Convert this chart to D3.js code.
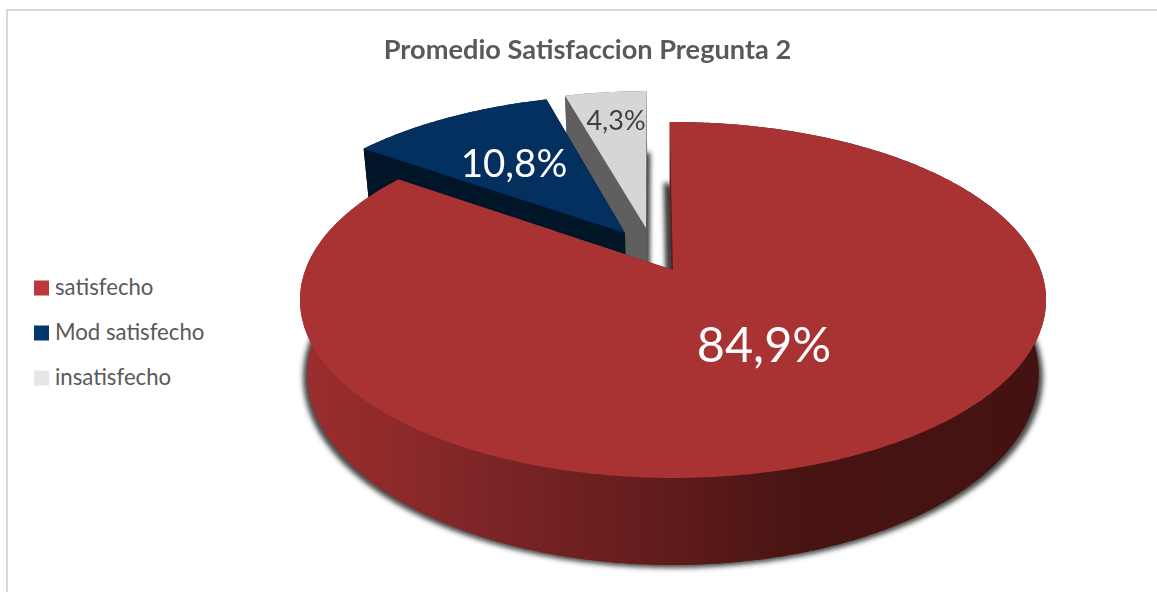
<!DOCTYPE html>
<html><head><meta charset="utf-8">
<script src="https://cdn.jsdelivr.net/npm/d3@7"></script>
<style>html,body{margin:0;padding:0;background:#fff;overflow:hidden}svg{display:block}text{font-family:Lato,"Open Sans",sans-serif}</style>
</head><body><svg id="c" width="1157" height="592"></svg>
<script>
const categories = ["satisfecho", "Mod satisfecho", "insatisfecho"];
const values = [84.9, 10.8, 4.3];
const valueLabels = ["84,9%", "10,8%", "4,3%"];
const chartTitle = "Promedio Satisfaccion Pregunta 2";

const topColors = ["#a93333", "#03305f", "#d6d6d6"];
const wallColors = ["url(#wall)", "#001528", "#5f5f5f"];
const legendColors = ["#bd3a3c", "#03386f", "#e6e6e6"];
const explodeU = [0, -0.1354, -0.0766], explodeV = [0, -0.222, -0.2533];
const labelX = [764, 514, 616], labelY = [362, 177, 130], labelSize = [48.5, 38.5, 27];
const labelFill = ["#fff", "#fff", "#404040"];

const svg = d3.select("#c");
const cx = 673, R = 367.7, k = -0.1685, A = 127.4, B = 270, shrink = 0.02;
const rot = -0.6 * Math.PI / 180;

const defs = svg.append("defs");
const g = defs.append("linearGradient").attr("id", "wall").attr("gradientUnits", "userSpaceOnUse")
  .attr("x1", 300).attr("x2", 1047).attr("y1", 0).attr("y2", 0);
[[0, "#9c2d2d"], [0.12, "#8e2a2a"], [0.27, "#7a2426"], [0.45, "#661d1d"], [0.67, "#481413"], [1, "#431212"]]
  .forEach(([o, c]) => g.append("stop").attr("offset", o).attr("stop-color", c));
defs.append("filter").attr("id", "blur").attr("x", "-10%").attr("y", "-10%").attr("width", "120%").attr("height", "120%")
  .append("feGaussianBlur").attr("stdDeviation", 2.6);

// frame
svg.append("path").attr("d", d3.line()([[7, 592], [7, 10], [1157, 10]])).attr("fill", "none").attr("stroke", "#d9d9d9").attr("stroke-width", 2);

const pie = d3.pie().sort(null).startAngle(rot).endAngle(rot + 2 * Math.PI);
const arcs = pie(values);
const line = d3.line();

function proj(u, v, z, i, s = 1, dy = 0) {
  const U = u + explodeU[i], V = v + explodeV[i], w = 1 + k * V;
  const X = cx + R * U / w, Y = (A * V + B) / w;
  return [cx + (X - cx) * (1 - shrink * z) * s, Y + z * (74 + (Y - 300) * 0.073) + dy];
}
const rim = (a, z, i, s, dy) => proj(Math.sin(a), -Math.cos(a), z, i, s, dy);
function rimPts(a0, a1, z, i, s, dy) {
  const n = Math.max(2, Math.ceil((a1 - a0) * 90));
  return d3.range(n + 1).map(j => rim(a0 + (a1 - a0) * j / n, z, i, s, dy));
}
const face = (d, i, z, s, dy) => line([proj(0, 0, z, i, s, dy), ...rimPts(d.startAngle, d.endAngle, z, i, s, dy)]) + "Z";
const quad = (p, q, i) => line([p(0), q(0), q(1), p(1)]) + "Z";

// shadows
const shadows = svg.append("g").attr("filter", "url(#blur)");
shadows.append("path").attr("d", face(arcs[0], 0, 1, 1.012, 3)).attr("fill", "#333").attr("opacity", 0.9);
shadows.append("path").attr("d", face(arcs[2], 2, 1, 1, 3)).attr("fill", "#333").attr("transform", "translate(3,0)");
shadows.append("path").attr("d", line([proj(0, 0, 1, 0), rim(arcs[0].startAngle, 1, 0)]))
  .attr("stroke", "#333").attr("stroke-width", 6).attr("fill", "none").attr("transform", "translate(-3,0)");

// slices: back to front
[2, 1, 0].forEach(i => {
  const d = arcs[i], gs = svg.append("g");
  const wall = wallColors[i];
  gs.append("path").attr("d", face(d, i, 1)).attr("fill", wall);
  const a = z => proj(0, 0, z, i);
  const s = z => rim(d.startAngle, z, i), e = z => rim(d.endAngle, z, i);
  gs.append("path").attr("d", quad(a, s, i)).attr("fill", wall);
  gs.append("path").attr("d", quad(a, e, i)).attr("fill", wall);
  gs.append("path").attr("d", line([...rimPts(d.startAngle, d.endAngle, 0, i), ...rimPts(d.startAngle, d.endAngle, 1, i).reverse()]) + "Z").attr("fill", wall);
  gs.append("path").attr("d", face(d, i, 0)).attr("fill", topColors[i]);
});

// labels
svg.append("g").selectAll("text").data(valueLabels).join("text")
  .attr("x", (d, i) => labelX[i]).attr("y", (d, i) => labelY[i]).attr("text-anchor", "middle")
  .attr("font-size", (d, i) => labelSize[i]).attr("fill", (d, i) => labelFill[i]).text(d => d);

// title
svg.append("text").attr("x", 587.5).attr("y", 59).attr("text-anchor", "middle").attr("font-size", 27.2)
  .attr("font-weight", 700).attr("fill", "#595959").text(chartTitle);

// legend
const legY = d3.scalePoint().domain(categories).range([288, 378]);
const leg = svg.append("g").selectAll("g").data(categories).join("g").attr("transform", d => `translate(34,${legY(d)})`);
leg.append("rect").attr("x", 0).attr("y", -7.5).attr("width", 15).attr("height", 15).attr("fill", (d, i) => legendColors[i]);
leg.append("text").attr("x", 21).attr("y", 7).attr("font-size", 22.2).attr("fill", "#595959").text(d => d);
</script></body></html>
